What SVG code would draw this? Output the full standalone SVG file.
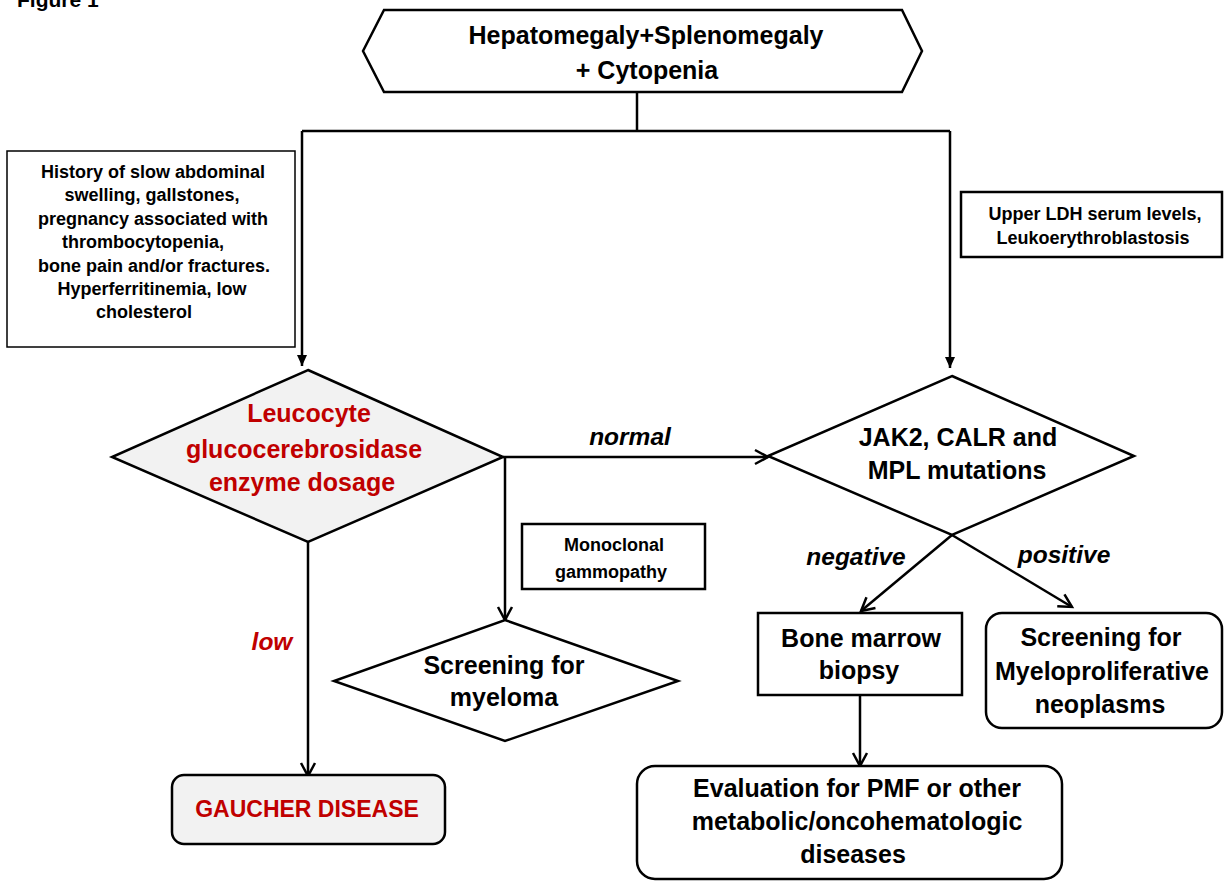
<svg xmlns="http://www.w3.org/2000/svg" width="1225" height="882" viewBox="0 0 1225 882">
<style>
.t{font-family:"Liberation Sans",Arial,sans-serif;font-weight:bold;text-anchor:middle;fill:#000}
.s17{font-size:18px}
.s24{font-size:25px}
.s22{font-size:24.5px}
.red{fill:#c00000}
.it{font-style:italic}
.shape{fill:#fff;stroke:#000;stroke-width:2.5}
.thin{fill:#fff;stroke:#000;stroke-width:1.5}
.grey{fill:#f2f2f2}
.conn{stroke:#000;stroke-width:2.5;fill:none}
</style>
<defs>
<marker id="open" markerUnits="userSpaceOnUse" markerWidth="18" markerHeight="18" viewBox="0 0 18 18" refX="15" refY="9" orient="auto">
<path d="M2,2 L15,9 L2,16" fill="none" stroke="#000" stroke-width="2.5"/>
</marker>
<marker id="fill" markerUnits="userSpaceOnUse" markerWidth="12" markerHeight="10" viewBox="0 0 12 10" refX="11" refY="5" orient="auto">
<path d="M0,0 L11,5 L0,10 z" fill="#000"/>
</marker>
</defs>
<rect width="1225" height="882" fill="#fff"/>
<text x="17" y="7" style="font-family:'Liberation Sans',Arial,sans-serif;font-weight:bold;font-size:21px">Figure 1</text>

<g id="connectors">
<path class="conn" d="M637,92 V131"/>
<path class="conn" d="M302,131 H950"/>
<path class="conn" d="M302,131 V366" marker-end="url(#fill)"/>
<path class="conn" d="M950,131 V368" marker-end="url(#fill)"/>
<path class="conn" d="M503,457 H768" marker-end="url(#open)"/>
<path class="conn" d="M505,457 V620" marker-end="url(#open)"/>
<path class="conn" d="M308,542 V776" marker-end="url(#open)"/>
<path class="conn" d="M952,535 L861,611" marker-end="url(#open)"/>
<path class="conn" d="M952,535 L1072,607" marker-end="url(#open)"/>
<path class="conn" d="M860,695 V766" marker-end="url(#open)"/>
<text class="t s22 it" x="630" y="445">normal</text>
<text class="t s22 it red" x="272" y="650">low</text>
<text class="t s22 it" x="856" y="565">negative</text>
<text class="t s22 it" x="1064" y="563">positive</text>
</g>

<g id="start">
<polygon class="shape" points="363,51 384,10 902,10 922,51 902,92 384,92"/>
<text class="t s24" x="646" y="44">Hepatomegaly+Splenomegaly</text>
<text class="t s24" x="647" y="79">+ Cytopenia</text>
</g>

<g id="history">
<rect class="thin" x="7" y="151" width="288" height="196"/>
<text class="t s17" x="153" y="178">History of slow abdominal</text>
<text class="t s17" x="152" y="201">swelling, gallstones,</text>
<text class="t s17" x="153" y="225">pregnancy associated with</text>
<text class="t s17" x="143" y="248">thrombocytopenia,</text>
<text class="t s17" x="154" y="272">bone pain and/or fractures.</text>
<text class="t s17" x="152" y="295">Hyperferritinemia, low</text>
<text class="t s17" x="144" y="318">cholesterol</text>
</g>

<g id="enzyme">
<polygon class="shape grey" points="308,370 503,457 308,542 112,457"/>
<text class="t s24 red" x="309" y="422">Leucocyte</text>
<text class="t s24 red" x="304" y="458">glucocerebrosidase</text>
<text class="t s24 red" x="302" y="491">enzyme dosage</text>
</g>

<g id="ldh">
<rect class="shape" x="961" y="192" width="261" height="65"/>
<text class="t s17" x="1095" y="220">Upper LDH serum levels,</text>
<text class="t s17" x="1093" y="244">Leukoerythroblastosis</text>
</g>

<g id="mutations">
<polygon class="shape" points="952,376 1134,456 952,535 768,456"/>
<text class="t s24" x="958" y="446">JAK2, CALR and</text>
<text class="t s24" x="957" y="479">MPL mutations</text>
</g>

<g id="monoclonal">
<rect class="shape" x="522" y="524" width="183" height="65"/>
<text class="t s17" x="614" y="551">Monoclonal</text>
<text class="t s17" x="611" y="578">gammopathy</text>
</g>

<g id="myeloma">
<polygon class="shape" points="505,620 678,681 505,741 334,681"/>
<text class="t s24" x="504" y="674">Screening for</text>
<text class="t s24" x="504" y="706">myeloma</text>
</g>

<g id="gaucher">
<rect class="shape grey" x="172" y="775" width="273" height="69" rx="12"/>
<text class="t red" style="font-size:23px" x="307" y="817">GAUCHER DISEASE</text>
</g>

<g id="biopsy">
<rect class="shape" x="758" y="613" width="204" height="82"/>
<text class="t s24" x="861" y="647">Bone marrow</text>
<text class="t s24" x="859" y="679">biopsy</text>
</g>

<g id="mpn">
<rect class="shape" x="986" y="613" width="236" height="115" rx="16"/>
<text class="t s24" x="1101" y="646">Screening for</text>
<text class="t s24" x="1102" y="680">Myeloproliferative</text>
<text class="t s24" x="1100" y="713">neoplasms</text>
</g>

<g id="evaluation">
<rect class="shape" x="637" y="766" width="425" height="113" rx="18"/>
<text class="t s24" x="857" y="797">Evaluation for PMF or other</text>
<text class="t s24" x="857" y="830">metabolic/oncohematologic</text>
<text class="t s24" x="853" y="863">diseases</text>
</g>
</svg>
